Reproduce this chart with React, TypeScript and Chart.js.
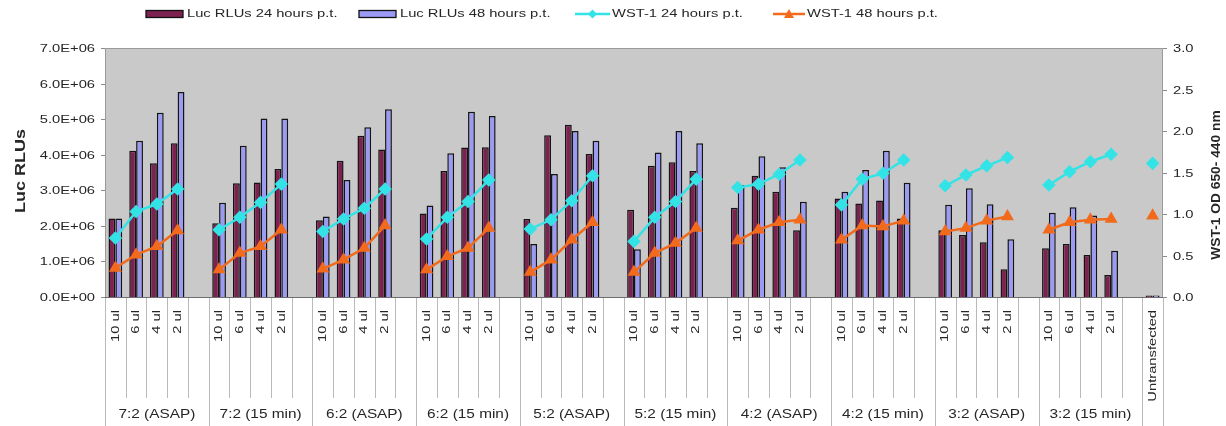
import React, { useEffect, useRef } from "react";
import { Chart, registerables } from "chart.js";

Chart.register(...registerables);

// ---------- data ----------
const groups = [
  "7:2 (ASAP)", "7:2 (15 min)", "6:2 (ASAP)", "6:2 (15 min)", "5:2 (ASAP)",
  "5:2 (15 min)", "4:2 (ASAP)", "4:2 (15 min)", "3:2 (ASAP)", "3:2 (15 min)",
];
const volumes = ["10 ul", "6 ul", "4 ul", "2 ul"];
const controlLabel = "Untransfected";

const seriesNames = [
  "Luc RLUs 24 hours p.t.",
  "Luc RLUs 48 hours p.t.",
  "WST-1 24 hours p.t.",
  "WST-1 48 hours p.t.",
];

// 10 groups x 4 volumes, then the untransfected control
const luc24 = [
  2.21e6, 4.11e6, 3.76e6, 4.32e6,
  2.07e6, 3.2e6, 3.22e6, 3.6e6,
  2.16e6, 3.83e6, 4.53e6, 4.15e6,
  2.35e6, 3.54e6, 4.2e6, 4.21e6,
  2.19e6, 4.55e6, 4.84e6, 4.02e6,
  2.45e6, 3.69e6, 3.79e6, 3.54e6,
  2.51e6, 3.41e6, 2.96e6, 1.88e6,
  2.77e6, 2.63e6, 2.71e6, 2.21e6,
  1.88e6, 1.74e6, 1.54e6, 0.78e6,
  1.37e6, 1.49e6, 1.18e6, 0.62e6,
  0.04e6,
];
const luc48 = [
  2.21e6, 4.39e6, 5.18e6, 5.76e6,
  2.65e6, 4.25e6, 5.02e6, 5.02e6,
  2.26e6, 3.29e6, 4.77e6, 5.28e6,
  2.57e6, 4.04e6, 5.21e6, 5.09e6,
  1.49e6, 3.46e6, 4.67e6, 4.39e6,
  1.34e6, 4.06e6, 4.67e6, 4.32e6,
  3.15e6, 3.96e6, 3.65e6, 2.68e6,
  2.96e6, 3.57e6, 4.11e6, 3.21e6,
  2.59e6, 3.06e6, 2.61e6, 1.62e6,
  2.37e6, 2.52e6, 2.29e6, 1.3e6,
  0.04e6,
];
const wst24 = [
  0.71, 1.03, 1.12, 1.3,
  0.81, 0.96, 1.14, 1.36,
  0.79, 0.94, 1.07, 1.3,
  0.7, 0.96, 1.15, 1.41,
  0.82, 0.93, 1.16, 1.46,
  0.67, 0.96, 1.15, 1.42,
  1.32, 1.36, 1.48, 1.65,
  1.11, 1.42, 1.49, 1.65,
  1.34, 1.47, 1.58, 1.68,
  1.35, 1.51, 1.63, 1.72,
  1.61,
];
const wst48 = [
  0.35, 0.51, 0.61, 0.8,
  0.33, 0.53, 0.61, 0.81,
  0.34, 0.45, 0.59, 0.86,
  0.33, 0.49, 0.59, 0.83,
  0.3, 0.45, 0.69, 0.9,
  0.3, 0.53, 0.65, 0.83,
  0.68, 0.81, 0.9, 0.93,
  0.69, 0.86, 0.85, 0.92,
  0.79, 0.83, 0.92, 0.97,
  0.81, 0.9, 0.93, 0.94,
  0.98,
];

const lucTickValues = [0, 1e6, 2e6, 3e6, 4e6, 5e6, 6e6, 7e6];
const lucTickLabels = ["0.0E+00", "1.0E+06", "2.0E+06", "3.0E+06", "4.0E+06", "5.0E+06", "6.0E+06", "7.0E+06"];
const wstTickValues = [0, 0.5, 1, 1.5, 2, 2.5, 3];
const wstTickLabels = ["0.0", "0.5", "1.0", "1.5", "2.0", "2.5", "3.0"];

const leftTitle = "Luc RLUs";
const rightTitle = "WST-1 OD 650- 440 nm";

// ---------- style ----------
const W = 1226;
const H = 426;
const FONT = "'Liberation Sans', Arial, sans-serif";
const TEXT = "#262626";
const C_MAROON = "#7c2150";
const C_BLUE = "#9b9bf5";
const C_CYAN = "#33e3e6";
const C_ORANGE = "#f26a1b";
const PLOT_BG = "#c9c9c9";

// expand a 41-value series onto the 51 category slots (blank slot after each group)
function expand(vals: number[]): (number | null)[] {
  const out: (number | null)[] = [];
  groups.forEach((_, gi) => {
    for (let k = 0; k < volumes.length; k++) out.push(vals[gi * volumes.length + k]);
    out.push(null);
  });
  out.push(vals[groups.length * volumes.length]);
  return out;
}

function buildLabels(): string[] {
  const out: string[] = [];
  groups.forEach(() => {
    volumes.forEach((v) => out.push(v));
    out.push("");
  });
  out.push(controlLabel);
  return out;
}

function drawText(
  ctx: CanvasRenderingContext2D,
  s: string,
  x: number,
  y: number,
  o: { size: number; bold?: boolean; align?: CanvasTextAlign; baseline?: CanvasTextBaseline; rot?: number; sx?: number; color?: string }
) {
  ctx.save();
  ctx.translate(x, y);
  if (o.rot) ctx.rotate(o.rot);
  ctx.scale(o.sx ?? 1.28, 1);
  ctx.font = `${o.bold ? "bold " : ""}${o.size}px ${FONT}`;
  ctx.textAlign = o.align ?? "left";
  ctx.textBaseline = o.baseline ?? "middle";
  ctx.fillStyle = o.color ?? TEXT;
  ctx.fillText(s, 0, 0);
  ctx.restore();
}

const decorPlugin = {
  id: "decor",
  beforeDraw(chart: any) {
    const { ctx, chartArea: a } = chart;
    ctx.save();
    ctx.fillStyle = PLOT_BG;
    ctx.fillRect(a.left, a.top, a.right - a.left, a.bottom - a.top);
    ctx.restore();
  },
  afterDraw(chart: any) {
    const { ctx, chartArea: a } = chart;
    const xs = chart.scales.x;
    const ys = chart.scales.y;
    const y1 = chart.scales.y1;
    const labels: string[] = chart.data.labels;

    ctx.save();
    // plot frame
    ctx.lineWidth = 1;
    ctx.strokeStyle = "#9a9a9a";
    ctx.beginPath();
    ctx.moveTo(a.left + 0.5, a.bottom);
    ctx.lineTo(a.left + 0.5, a.top + 0.5);
    ctx.lineTo(a.right - 0.5, a.top + 0.5);
    ctx.lineTo(a.right - 0.5, a.bottom);
    ctx.stroke();
    ctx.strokeStyle = "#6e6e6e";
    ctx.beginPath();
    ctx.moveTo(a.left, a.bottom + 0.5);
    ctx.lineTo(a.right, a.bottom + 0.5);
    ctx.stroke();

    // left ticks & labels
    ctx.strokeStyle = "#8a8a8a";
    lucTickValues.forEach((v, i) => {
      const py = Math.round(ys.getPixelForValue(v)) + 0.5;
      ctx.beginPath();
      ctx.moveTo(a.left - 4, py);
      ctx.lineTo(a.left, py);
      ctx.stroke();
      drawText(ctx, lucTickLabels[i], a.left - 10, py, { size: 11.5, align: "right" });
    });
    // right ticks & labels
    wstTickValues.forEach((v, i) => {
      const py = Math.round(y1.getPixelForValue(v)) + 0.5;
      ctx.beginPath();
      ctx.moveTo(a.right, py);
      ctx.lineTo(a.right + 4, py);
      ctx.stroke();
      drawText(ctx, wstTickLabels[i], a.right + 10, py, { size: 11.5, align: "left" });
    });

    // axis titles
    drawText(ctx, leftTitle, 21, 171, { size: 15, bold: true, align: "center", rot: -Math.PI / 2, sx: 1.2 });
    drawText(ctx, rightTitle, 1216, 185, { size: 13, bold: true, align: "center", rot: -Math.PI / 2, sx: 1.06 });

    // category axis (multi-level)
    const n = labels.length;
    const step = xs.getPixelForValue(1) - xs.getPixelForValue(0);
    const left0 = xs.getPixelForValue(0) - step / 2;
    ctx.strokeStyle = "#b9b9b9";
    for (let i = 0; i <= n; i++) {
      const bx = Math.round(left0 + i * step) + 0.5;
      const long = i % 5 === 0 || i >= n - 1;
      ctx.beginPath();
      ctx.moveTo(bx, a.bottom + 1);
      ctx.lineTo(bx, long ? H : 398);
      ctx.stroke();
    }
    labels.forEach((lab, i) => {
      if (!lab) return;
      const cx = xs.getPixelForValue(i);
      drawText(ctx, lab, cx, a.bottom + 13, { size: 11.5, align: "right", rot: -Math.PI / 2 });
    });
    groups.forEach((g, gi) => {
      const cx = left0 + (gi * 5 + 2.5) * step;
      drawText(ctx, g, cx, 415, { size: 12, align: "center" });
    });

    // legend
    const ly = 14;
    const boxes = [
      { x: 146, c: C_MAROON },
      { x: 359, c: C_BLUE },
    ];
    boxes.forEach((b, i) => {
      ctx.fillStyle = b.c;
      ctx.fillRect(b.x, ly - 3.5, 37, 7);
      ctx.strokeStyle = "#111";
      ctx.lineWidth = 1.3;
      ctx.strokeRect(b.x, ly - 3.5, 37, 7);
      drawText(ctx, seriesNames[i], b.x + 41, ly, { size: 11.5 });
    });
    const lines = [
      { x0: 575, x1: 610, c: C_CYAN, shape: "diamond" },
      { x0: 773, x1: 805, c: C_ORANGE, shape: "tri" },
    ];
    lines.forEach((l, i) => {
      ctx.strokeStyle = l.c;
      ctx.lineWidth = 2.5;
      ctx.beginPath();
      ctx.moveTo(l.x0, ly);
      ctx.lineTo(l.x1, ly);
      ctx.stroke();
      const mx = (l.x0 + l.x1) / 2;
      ctx.fillStyle = l.c;
      ctx.beginPath();
      if (l.shape === "diamond") {
        ctx.moveTo(mx, ly - 4.5);
        ctx.lineTo(mx + 4.5, ly);
        ctx.lineTo(mx, ly + 4.5);
        ctx.lineTo(mx - 4.5, ly);
      } else {
        ctx.moveTo(mx, ly - 5);
        ctx.lineTo(mx + 5, ly + 4);
        ctx.lineTo(mx - 5, ly + 4);
      }
      ctx.closePath();
      ctx.fill();
      drawText(ctx, seriesNames[i + 2], l.x1 + 2, ly, { size: 11.5 });
    });
    ctx.restore();
  },
};

export default function App() {
  const ref = useRef<HTMLCanvasElement | null>(null);

  useEffect(() => {
    if (!ref.current) return;
    const labels = buildLabels();
    const chart = new Chart(ref.current, {
      type: "bar",
      data: {
        labels,
        datasets: [
          {
            type: "line",
            label: seriesNames[2],
            data: expand(wst24),
            yAxisID: "y1",
            borderColor: C_CYAN,
            backgroundColor: C_CYAN,
            borderWidth: 2.5,
            pointStyle: "rectRot",
            pointRadius: 5,
            pointBackgroundColor: C_CYAN,
            pointBorderColor: C_CYAN,
            spanGaps: false,
            tension: 0,
            order: 0,
          } as any,
          {
            type: "line",
            label: seriesNames[3],
            data: expand(wst48),
            yAxisID: "y1",
            borderColor: C_ORANGE,
            backgroundColor: C_ORANGE,
            borderWidth: 2.5,
            pointStyle: "triangle",
            pointRadius: 5,
            pointBackgroundColor: C_ORANGE,
            pointBorderColor: C_ORANGE,
            spanGaps: false,
            tension: 0,
            order: 1,
          } as any,
          {
            type: "bar",
            label: seriesNames[0],
            data: expand(luc24),
            yAxisID: "y",
            backgroundColor: C_MAROON,
            borderColor: "#141414",
            borderWidth: 1.5,
            barPercentage: 1,
            categoryPercentage: 0.66,
            order: 2,
          } as any,
          {
            type: "bar",
            label: seriesNames[1],
            data: expand(luc48),
            yAxisID: "y",
            backgroundColor: C_BLUE,
            borderColor: "#141414",
            borderWidth: 1.5,
            barPercentage: 1,
            categoryPercentage: 0.66,
            order: 3,
          } as any,
        ],
      },
      options: {
        animation: false,
        responsive: false,
        devicePixelRatio: 1,
        layout: { padding: { top: 48, left: 0, right: 0, bottom: 0 } },
        plugins: { legend: { display: false }, tooltip: { enabled: false } },
        scales: {
          x: {
            type: "category",
            offset: true,
            grid: { display: false },
            border: { display: false },
            ticks: { display: false },
            afterFit: (s: any) => {
              s.height = H - 297;
            },
          },
          y: {
            position: "left",
            min: 0,
            max: 7e6,
            grid: { display: false },
            border: { display: false },
            ticks: { display: false, stepSize: 1e6 },
            afterFit: (s: any) => {
              s.width = 105;
            },
          },
          y1: {
            position: "right",
            min: 0,
            max: 3,
            grid: { display: false },
            border: { display: false },
            ticks: { display: false, stepSize: 0.5 },
            afterFit: (s: any) => {
              s.width = W - 1163;
            },
          },
        },
      } as any,
      plugins: [decorPlugin],
    });
    return () => chart.destroy();
  }, []);

  return (
    <div style={{ position: "fixed", left: 0, top: 0, width: W, height: H, background: "#fff" }}>
      <canvas ref={ref} width={W} height={H} style={{ width: W, height: H, display: "block" }} />
    </div>
  );
}
